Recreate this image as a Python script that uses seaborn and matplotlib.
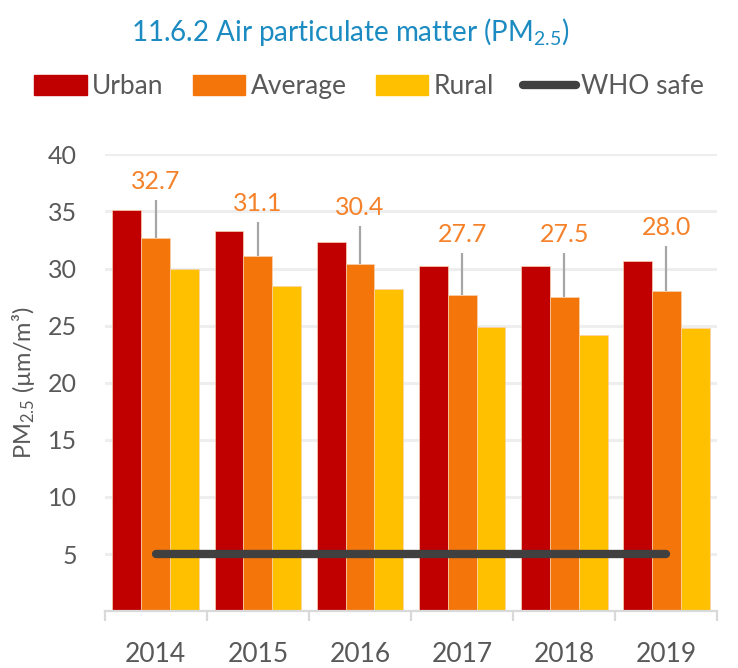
import matplotlib.pyplot as plt
import pandas as pd
import seaborn as sns
from matplotlib.lines import Line2D
from matplotlib.patches import Patch

# Data
years = ["2014", "2015", "2016", "2017", "2018", "2019"]
urban = [35.1, 33.3, 32.3, 30.2, 30.2, 30.7]
average = [32.7, 31.1, 30.4, 27.7, 27.5, 28.0]
rural = [30.0, 28.5, 28.2, 24.9, 24.2, 24.8]
average_upper = [36.0, 34.1, 33.7, 31.4, 31.4, 32.0]
who_safe = [5, 5, 5, 5, 5, 5]

groups = ["Urban", "Average", "Rural"]
colors = ["#C00000", "#F4760B", "#FFC000"]

df = pd.DataFrame({"year": years * 3,
                   "group": sum([[g] * len(years) for g in groups], []),
                   "value": urban + average + rural})

sns.set_style("white")
plt.rcParams["font.family"] = ["Lato", "DejaVu Sans"]
plt.rcParams["mathtext.fontset"] = "custom"
plt.rcParams["mathtext.rm"] = "Lato"
plt.rcParams["mathtext.it"] = "Lato"

fig = plt.figure(figsize=(7.38, 6.68), dpi=100)
ax = fig.add_axes([0.142, 0.085, 0.830, 0.684])

sns.barplot(data=df, x="year", y="value", hue="group", palette=colors,
            saturation=1, width=0.85, edgecolor="#f6d2b0", linewidth=0.5,
            ax=ax, legend=False, zorder=2)

# leader lines and labels on the average bars
for bar, val, top in zip(ax.containers[1], average, average_upper):
    xc = bar.get_x() + bar.get_width() / 2
    ax.vlines(xc, val, top, color="#A6A6A6", lw=1.6, zorder=3)
    ax.text(xc, top + 0.6, f"{val:.1f}", ha="center", va="bottom",
            color="#F5822A", fontsize=18)

# WHO safe level
ax.plot(range(len(years)), who_safe, color="#404040", lw=6,
        solid_capstyle="round", zorder=4)

ax.set_ylim(0, 40)
ax.set_xlim(-0.5, len(years) - 0.5)
ax.set_yticks(range(5, 41, 5))
ax.yaxis.grid(True, color="#EEEEEE", lw=2.2, zorder=0)
ax.set_axisbelow(True)
for s in ["top", "right", "left"]:
    ax.spines[s].set_visible(False)
ax.spines["bottom"].set_color("#D9D9D9")
ax.spines["bottom"].set_linewidth(1.6)

ax.tick_params(axis="y", length=0, pad=20, labelsize=18, labelcolor="#595959")
ax.tick_params(axis="x", which="major", length=0, pad=22, labelsize=19,
               labelcolor="#595959")
ax.set_xticks([i - 0.5 for i in range(len(years) + 1)], minor=True)
ax.tick_params(axis="x", which="minor", bottom=True, length=7, width=1.6,
               color="#D9D9D9")

ax.set_xlabel("")
ax.set_ylabel("PM$_{2.5}$ (µm/m³)", fontsize=17, color="#595959", labelpad=8)

fig.text(0.475, 0.952, "11.6.2 Air particulate matter (PM$_{2.5}$)",
         ha="center", va="center", fontsize=20, color="#1B8BC1")

handles = [Patch(color=c) for c in colors]
handles.append(Line2D([0], [0], color="#404040", lw=6, solid_capstyle="round"))
leg = fig.legend(handles, groups + ["WHO safe"], loc="center",
                 bbox_to_anchor=(0.5, 0.87), ncol=4, frameon=False,
                 fontsize=19, handlelength=2.0, handleheight=0.75,
                 handletextpad=0.2, columnspacing=1.1)
for t in leg.get_texts():
    t.set_color("#595959")

fig.savefig("out.png", dpi=100)
